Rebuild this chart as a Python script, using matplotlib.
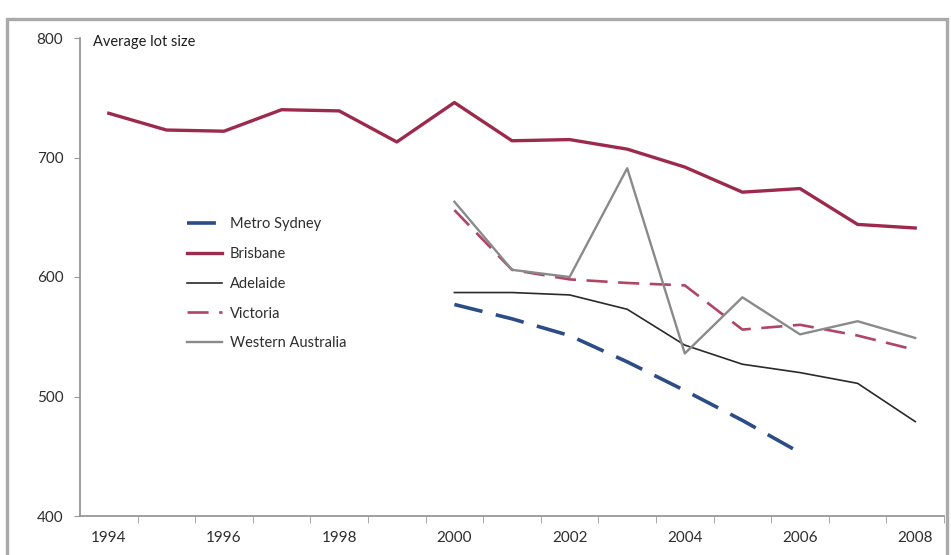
import numpy as np
import matplotlib.pyplot as plt
from matplotlib.patches import Rectangle

# data
years = list(range(1994, 2009))
years_2000 = list(range(2000, 2009))
years_sydney = list(range(2000, 2007))

brisbane = [737, 723, 722, 740, 739, 713, 746, 714, 715, 707, 692, 671, 674, 644, 641]
sydney = [577, 565, 551, 529, 505, 480, 453]
adelaide = [587, 587, 585, 573, 543, 527, 520, 511, 479]
victoria = [656, 606, 598, 595, 593, 556, 560, 551, 539]
west_aus = [663, 606, 600, 691, 536, 583, 552, 563, 549]

tick_years = years[::2]

plt.rcParams['font.family'] = ['Lato', 'DejaVu Sans']

W, H = 951, 555
fig = plt.figure(figsize=(W / 100, H / 100), dpi=100)

# axes box in pixels: left 80, right 944, top 38, bottom 516
ax = fig.add_axes([80 / W, 1 - 516 / H, (944 - 80) / W, (516 - 38) / H])

def idx(yrs):
    return [y - years[0] for y in yrs]

ax.plot(idx(years_sydney), sydney, color='#2b4c86', lw=2.6,
        dashes=(8, 3.8), label='Metro Sydney')
ax.plot(idx(years), brisbane, color='#9c2a4d', lw=2.4, label='Brisbane')
ax.plot(idx(years_2000), adelaide, color='#2a2a2a', lw=1.2, label='Adelaide')
ax.plot(idx(years_2000), victoria, color='#b04566', lw=1.9,
        dashes=(8, 4), label='Victoria')
ax.plot(idx(years_2000), west_aus, color='#8a8a8a', lw=1.7,
        label='Western Australia')

ax.set_xlim(-0.5, len(years) - 0.5)
ax.set_ylim(400, 800)
ax.set_yticks(np.arange(400, 801, 100))

# category style axis: labels at centres, tick marks on boundaries
ax.set_xticks(idx(tick_years))
ax.set_xticklabels([str(y) for y in tick_years])
ax.set_xticks(np.arange(0.5, len(years), 1), minor=True)
ax.tick_params(axis='x', which='major', length=0, pad=11, labelsize=11, labelcolor='#2e2e2e')
ax.tick_params(axis='x', which='minor', length=5, color='#999999', direction='out')
ax.tick_params(axis='y', length=4, color='#999999', pad=8, labelsize=11, labelcolor='#2e2e2e')

for s in ['top', 'right']:
    ax.spines[s].set_visible(False)
for s in ['left', 'bottom']:
    ax.spines[s].set_color('#8f8f8f')
    ax.spines[s].set_linewidth(1.2)

fig.text(93 / W, 1 - 42 / H, 'Average lot size', fontsize=10.5, color='#1e1e1e', va='center')

leg = ax.legend(loc='upper left', bbox_to_anchor=(180 / W, 1 - 210 / H),
                bbox_transform=fig.transFigure, frameon=False, fontsize=10.5,
                handlelength=2.4, handletextpad=0.5, labelspacing=1.08,
                borderpad=0)
for t in leg.get_texts():
    t.set_color('#2e2e2e')

# grey border around the whole chart
fig.patches.append(Rectangle((7 / W, -0.02), (947 - 7) / W, (H - 19) / H + 0.02,
                             transform=fig.transFigure, fill=False,
                             edgecolor='#aaaaaa', lw=2.4))

fig.savefig('out.png', dpi=100)
